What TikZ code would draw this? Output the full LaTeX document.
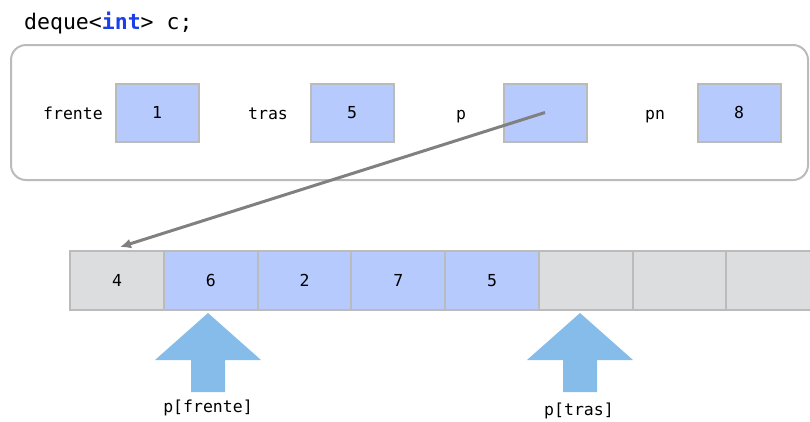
\documentclass[tikz,border=0pt]{standalone}
\usepackage{fontspec}
\setmonofont{DejaVu Sans Mono}
\usepackage{tikz}
\usetikzlibrary{arrows.meta,positioning,calc}
\definecolor{cellblue}{HTML}{B7CAFD}
\definecolor{cellgray}{HTML}{DCDDDF}
\definecolor{edgegray}{HTML}{BBBBBB}
\definecolor{ptrgray}{HTML}{808080}
\definecolor{kwblue}{HTML}{1A3FE6}
\definecolor{upblue}{HTML}{86BCE9}

\begin{document}
\begin{tikzpicture}[
  x=1pt, y=-1pt, >={Latex[length=11pt,width=10pt]},
  every node/.style={font=\ttfamily\fontsize{16.5}{18}\selectfont},
  field/.style={draw=edgegray, line width=2pt, fill=cellblue,
                minimum width=83pt, minimum height=58pt, inner sep=0pt},
  cell/.style={draw=edgegray, line width=2pt, minimum width=93.75pt,
               minimum height=59pt, inner sep=0pt},
  lbl/.style={inner sep=0pt},
  uparrow/.style={fill=upblue, draw=none}
]
  \useasboundingbox (0,0) rectangle (810,421);
  \clip (0,0) rectangle (810,421);
  % declaration
  \node[lbl, anchor=base west, font=\ttfamily\fontsize{21.5}{24}\selectfont]
       (decl) at (24,29) {deque<\textcolor{kwblue}{\textbf{int}}> c;};
  % the object
  \draw[edgegray, line width=2pt, rounded corners=15pt] (11,45) rectangle (808,180);
  \foreach \n/\lab/\x/\v in {frente/frente/157/1, tras/tras/352/5, p/p/545/{}, pn/pn/739/8} {
    \node[field] (\n-box) at (\x,112.5) {\v};
    \node[lbl, anchor=base] (\n-lab) at (\x-84,119) {\lab};
  }
  % the array
  \foreach \i/\v/\c in {0/4/cellgray, 1/6/cellblue, 2/2/cellblue, 3/7/cellblue,
                        4/5/cellblue, 5/{}/cellgray, 6/{}/cellgray, 7/{}/cellgray} {
    \node[cell, fill=\c] (c\i) at (117+93.75*\i,280.5) {\v};
  }
  \draw[->, ptrgray, line width=3pt] (p-box.center) -- ($(c0.north)+(3,-3)$);
  % index arrows
  \foreach \x/\n in {208/frente, 580/tras} {
    \fill[uparrow] (\x,313) -- (\x+53,360) -- (\x+17,360) -- (\x+17,392)
      -- (\x-17,392) -- (\x-17,360) -- (\x-53,360) -- cycle;
  }
  \node[lbl, anchor=base] (ifrente) at (208,412) {p[frente]};
  \node[lbl, anchor=base] (itras) at (579,415) {p[tras]};
\end{tikzpicture}
\end{document}
